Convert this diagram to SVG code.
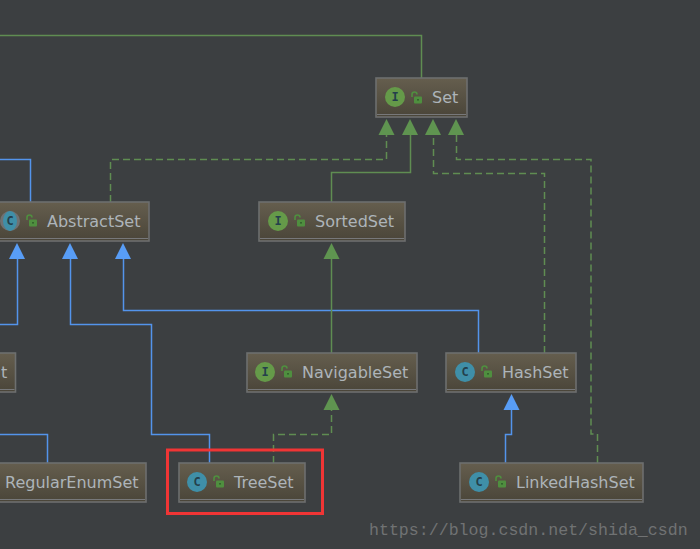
<svg xmlns="http://www.w3.org/2000/svg" width="700" height="549" viewBox="0 0 700 549">
<style>
.box{fill:url(#bg);stroke:#6d6f6f;stroke-width:1.6}
.sep{stroke:#77787a;stroke-width:1;fill:none}
.t{font-family:"DejaVu Sans",sans-serif;font-size:16px;fill:#adb4b9}
.badge{font-family:"DejaVu Sans Mono",monospace;font-size:12px;font-weight:bold;text-anchor:middle;fill:#24404c}
.i{fill:#659a49}.c{fill:#3f8fa8}
.lock{fill:none;stroke:#4f8f3f;stroke-width:1.6}
.lockb{fill:#4f8f3f}
.b{fill:none;stroke:#5394ec;stroke-width:1.5}
.g{fill:none;stroke:#5f8d52;stroke-width:1.5}
.d{fill:none;stroke:#5f8d52;stroke-width:1.5;stroke-dasharray:7 4}
.ab{fill:#589df6}.ag{fill:#5f9450}
</style>
<defs>
<linearGradient id="bg" x1="0" y1="0" x2="0" y2="1"><stop offset="0" stop-color="#655e4e"/><stop offset="1" stop-color="#4a4539"/></linearGradient>
<g id="lk"><path class="lock" d="M1 5V2.500Q1 0 3.500 0T6 2.500"/><rect class="lockb" x="3" y="4.500" width="8" height="7" rx="1"/><rect x="6.200" y="7" width="1.600" height="1.600" fill="#2f5a2a"/></g>
</defs>
<rect width="700" height="549" fill="#3c3f41"/>
<g id="connectors">
<path class="g" d="M0 35.500H421.500V78"/>
<path class="b" d="M0 159.500H30.500V202"/>
<path class="d" d="M110.500 202V159.500H386.500V135"/>
<path class="g" d="M331.500 202V172.500H410.500V135"/>
<path class="d" d="M544.500 353V173.500H433.500V135"/>
<path class="d" d="M597.500 463V434H591V159.500H456.500V135"/>
<path class="b" d="M0 324.500H17.500V258"/>
<path class="b" d="M209.500 463V434.500H151.500V324.500H70.500V258"/>
<path class="b" d="M478.500 353V310.500H123.500V258"/>
<path class="g" d="M331.500 353V258"/>
<path class="d" d="M273.500 463V434.500H331.500V409"/>
<path class="b" d="M505.500 463V434.500H511.500V409"/>
<path class="b" d="M0 434.500H47.500V463"/>
<polygon class="ag" points="386.500,119 378.500,135 394.500,135"/>
<polygon class="ag" points="410,119 402,135 418,135"/>
<polygon class="ag" points="433,119 425,135 441,135"/>
<polygon class="ag" points="456,119 448,135 464,135"/>
<polygon class="ab" points="17,243 9,259 25,259"/>
<polygon class="ab" points="70,243 62,259 78,259"/>
<polygon class="ab" points="123,243 115,259 131,259"/>
<polygon class="ag" points="331.500,243 323.500,259 339.500,259"/>
<polygon class="ag" points="331.500,394 323.500,410 339.500,410"/>
<polygon class="ab" points="511.500,394 503.500,410 519.500,410"/>
</g>
<g id="node-set"><rect class="box" x="376" y="78" width="91" height="39"/><path class="sep" d="M377 114.500H466"/><circle class="i" cx="395" cy="97" r="10"/><text class="badge" x="395" y="101">I</text><use href="#lk" x="411" y="92"/><text class="t" x="432" y="103">Set</text></g>
<g id="node-abstractset"><rect class="box" x="-10" y="202" width="159" height="39"/><path class="sep" d="M0 238.500H148"/><circle cx="10" cy="221" r="10" fill="#6f7274"/><ellipse class="c" cx="10" cy="221" rx="7" ry="10"/><text class="badge" x="10" y="225">C</text><use href="#lk" x="26" y="215"/><text class="t" x="47" y="227">AbstractSet</text></g>
<g id="node-sortedset"><rect class="box" x="259" y="202" width="146" height="39"/><path class="sep" d="M260 238.500H404"/><circle class="i" cx="278" cy="221" r="10"/><text class="badge" x="278" y="225">I</text><use href="#lk" x="294" y="215"/><text class="t" x="315" y="227">SortedSet</text></g>
<g id="node-t"><rect class="box" x="-10" y="353" width="25.500" height="39"/><path class="sep" d="M0 389.500H14.500"/><text class="t" x="1" y="378">t</text></g>
<g id="node-navigableset"><rect class="box" x="247" y="353" width="170" height="39"/><path class="sep" d="M248 389.500H416"/><circle class="i" cx="265" cy="372" r="10"/><text class="badge" x="265" y="376">I</text><use href="#lk" x="281" y="366"/><text class="t" x="302" y="378">NavigableSet</text></g>
<g id="node-hashset"><rect class="box" x="446" y="353" width="130" height="39"/><path class="sep" d="M447 389.500H575"/><circle class="c" cx="465" cy="372" r="10"/><text class="badge" x="465" y="376">C</text><use href="#lk" x="481" y="366"/><text class="t" x="502" y="378">HashSet</text></g>
<g id="node-regularenumset"><rect class="box" x="-10" y="463" width="156" height="39"/><path class="sep" d="M0 499.500H145"/><text class="t" x="5" y="488">RegularEnumSet</text></g>
<g id="node-treeset"><rect class="box" x="179" y="463" width="126" height="39"/><path class="sep" d="M180 499.500H304"/><circle class="c" cx="197" cy="482" r="10"/><text class="badge" x="197" y="486">C</text><use href="#lk" x="213" y="476"/><text class="t" x="234" y="488">TreeSet</text></g>
<g id="node-linkedhashset"><rect class="box" x="460" y="463" width="183" height="39"/><path class="sep" d="M461 499.500H642"/><circle class="c" cx="479" cy="482" r="10"/><text class="badge" x="479" y="486">C</text><use href="#lk" x="495" y="476"/><text class="t" x="516" y="488">LinkedHashSet</text></g>
<rect x="167.500" y="450" width="155" height="63.500" fill="none" stroke="#f03535" stroke-width="3"/>
<text x="369" y="535" font-family="'Liberation Mono',monospace" font-size="16.600" fill="#707273">https://blog.csdn.net/shida_csdn</text>
</svg>
